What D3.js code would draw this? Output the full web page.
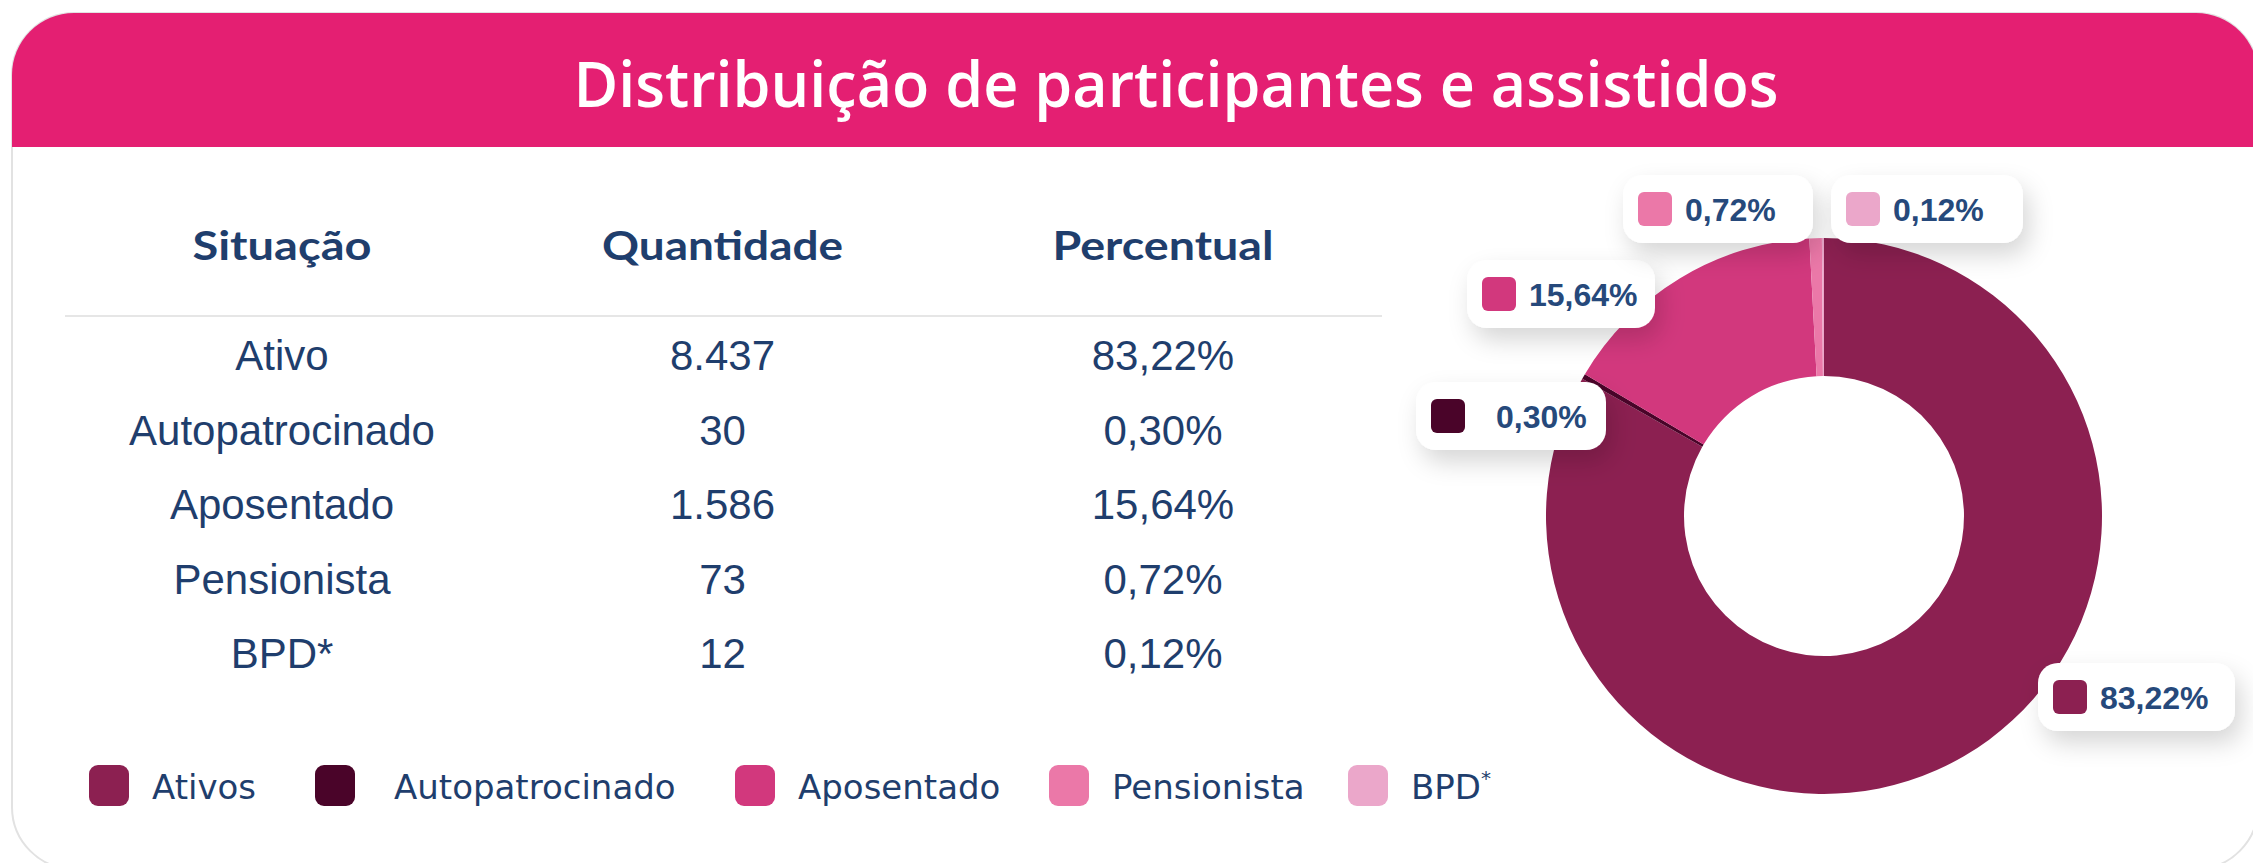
<!DOCTYPE html>
<html>
<head>
<meta charset="utf-8">
<script src="https://cdn.jsdelivr.net/npm/d3@7"></script>
<style>
  html, body { margin: 0; padding: 0; background: #fff; }
  svg { display: block; }
</style>
</head>
<body>
<div id="chart"></div>
<script>
const title = 'Distribuição de participantes e assistidos';
const headers = ['Situação', 'Quantidade', 'Percentual'];
const categories = ['Ativo', 'Autopatrocinado', 'Aposentado', 'Pensionista', 'BPD*'];
const quantities = [8437, 30, 1586, 73, 12];
const percents = [83.22, 0.30, 15.64, 0.72, 0.12];
const legendLabels = ['Ativos', 'Autopatrocinado', 'Aposentado', 'Pensionista', 'BPD'];
const colors = ['#8c2051', '#4a0429', '#d2387d', '#eb78a8', '#eba7ca'];

const fullWidth = 2253;
const fullHeight = 863;
const navy = '#1f3e6d';
const pink = '#e41f72';

// where each callout box sits (top-left corner), in slice order
const calloutPos = [[2038, 663], [1416, 382], [1467, 260], [1623, 175], [1831, 175]];
const calloutWidth = [197, 190, 188, 190, 192];

const br = d3.formatLocale({ decimal: ',', thousands: '.', grouping: [3], currency: ['R$', ''] });
const fmtQty = br.format(',d');
const fmtPct = br.format('.2f');

const svg = d3.select('#chart')
  .append('svg')
  .attr('width', fullWidth)
  .attr('height', fullHeight);

const defs = svg.append('defs');
defs.append('clipPath')
  .attr('id', 'card-clip')
  .append('rect')
  .attr('x', 12).attr('y', 13)
  .attr('width', 2246).attr('height', 856)
  .attr('rx', 62);

const shadow = defs.append('filter')
  .attr('id', 'shadow')
  .attr('x', '-40%').attr('y', '-40%')
  .attr('width', '180%').attr('height', '200%');
shadow.append('feDropShadow')
  .attr('dx', 6).attr('dy', 12)
  .attr('stdDeviation', 12)
  .attr('flood-color', '#000')
  .attr('flood-opacity', 0.16);

// card
svg.append('rect')
  .attr('x', 12).attr('y', 13)
  .attr('width', 2246).attr('height', 856)
  .attr('rx', 62)
  .attr('fill', '#fff')
  .attr('stroke', '#e2e2e2')
  .attr('stroke-width', 2);

svg.append('rect')
  .attr('clip-path', 'url(#card-clip)')
  .attr('x', 0).attr('y', 0)
  .attr('width', fullWidth).attr('height', 147)
  .attr('fill', pink);

svg.append('text')
  .attr('x', 1176).attr('y', 107)
  .attr('text-anchor', 'middle')
  .attr('fill', '#fff')
  .attr('font-family', 'Open Sans')
  .attr('font-weight', 600)
  .attr('font-size', 64)
  .attr('textLength', 1205)
  .attr('lengthAdjust', 'spacingAndGlyphs')
  .text(title);

// table
const colX = d3.scalePoint()
  .domain(d3.range(headers.length))
  .range([282, 1163]);

const rowY = d3.scalePoint()
  .domain(categories)
  .range([370, 668]);

const headerWidths = [179, 241, 221];
svg.append('g')
  .selectAll('text')
  .data(headers)
  .join('text')
  .attr('x', (d, i) => colX(i))
  .attr('y', 260)
  .attr('text-anchor', 'middle')
  .attr('fill', navy)
  .attr('font-family', 'Lato')
  .attr('font-weight', 700)
  .attr('font-size', 40)
  .attr('textLength', (d, i) => headerWidths[i])
  .attr('lengthAdjust', 'spacingAndGlyphs')
  .text(d => d);

svg.append('line')
  .attr('x1', 65).attr('x2', 1382)
  .attr('y1', 316).attr('y2', 316)
  .attr('stroke', '#e6e6e6')
  .attr('stroke-width', 2);

const rows = svg.append('g')
  .attr('font-family', 'Liberation Sans, Arial')
  .attr('font-size', 42)
  .attr('fill', navy)
  .attr('text-anchor', 'middle')
  .selectAll('g')
  .data(categories.map((c, i) => [c, fmtQty(quantities[i]), fmtPct(percents[i]) + '%']))
  .join('g')
  .attr('transform', d => `translate(0, ${rowY(d[0])})`);

rows.selectAll('text')
  .data(d => d)
  .join('text')
  .attr('x', (d, i) => colX(i))
  .text(d => d);

// donut
const cx = 1824, cy = 516;
const pie = d3.pie().sort(null).value(d => d);
const arc = d3.arc().innerRadius(140).outerRadius(278);
const arcs = pie(percents);

const donut = svg.append('g')
  .attr('transform', `translate(${cx}, ${cy})`);

donut.selectAll('path')
  .data(arcs)
  .join('path')
  .attr('d', arc)
  .attr('fill', (d, i) => colors[i]);

// callouts
const callouts = svg.append('g')
  .selectAll('g')
  .data(arcs)
  .join('g')
  .attr('transform', (d, i) => `translate(${calloutPos[i][0]}, ${calloutPos[i][1]})`);

callouts.append('rect')
  .attr('width', (d, i) => calloutWidth[i]).attr('height', 68)
  .attr('rx', 20)
  .attr('fill', '#fff')
  .attr('filter', 'url(#shadow)');

callouts.append('rect')
  .attr('x', 15).attr('y', 17)
  .attr('width', 34).attr('height', 34)
  .attr('rx', 6)
  .attr('fill', (d, i) => colors[i]);

callouts.append('text')
  .attr('x', (d, i) => i === 1 ? 80 : 62)
  .attr('y', 46)
  .attr('fill', '#26497b')
  .attr('font-family', 'Liberation Sans, Arial')
  .attr('font-weight', 700)
  .attr('font-size', 32)
  .text(d => fmtPct(d.data) + '%');

// legend
const legendX = [89, 315, 735, 1049, 1348];
const legend = svg.append('g')
  .selectAll('g')
  .data(legendLabels)
  .join('g')
  .attr('transform', (d, i) => `translate(${legendX[i]}, 765)`);

legend.append('rect')
  .attr('width', 40).attr('height', 41)
  .attr('rx', 9)
  .attr('fill', (d, i) => colors[i]);

const legendText = legend.append('text')
  .attr('x', (d, i) => i === 1 ? 79 : 63)
  .attr('y', 34)
  .attr('fill', navy)
  .attr('font-family', 'DejaVu Sans')
  .attr('font-size', 34)
  .text(d => d);

legendText.filter((d, i) => i === 4)
  .append('tspan')
  .attr('font-size', 20)
  .attr('dy', -14)
  .text('*');
</script>
</body>
</html>
